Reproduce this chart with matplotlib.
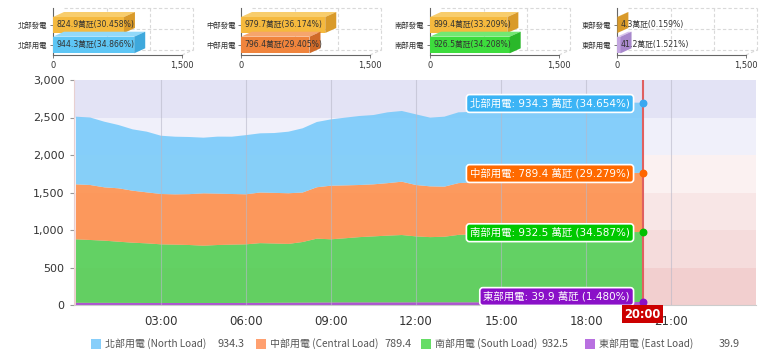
import matplotlib
matplotlib.use("Agg")
import matplotlib.pyplot as plt
import numpy as np
from matplotlib.patches import Polygon, Rectangle
from matplotlib.transforms import blended_transform_factory

plt.rcParams['font.family'] = ['DejaVu Sans', 'Noto Sans CJK TC']

# half-hourly load by region (萬瓩), 00:00 .. 20:00
hours = np.arange(0, 20.5, 0.5)
north = [902, 900, 875, 844, 818, 809, 777, 769, 762, 742,
         760, 764, 789, 789, 798, 821, 856, 870, 884, 903,
         920, 924, 944, 943, 942, 916, 933, 944, 939, 940,
         937, 934, 937, 940, 945, 950, 950, 950, 945, 940, 934.3]
central = [733, 733, 711, 712, 693, 680, 671, 670, 678, 698,
           685, 675, 667, 675, 675, 675, 660, 685, 715, 705,
           695, 694, 700, 711, 685, 677, 668, 690, 694, 695,
           695, 696, 696, 695, 697, 708, 732, 755, 775, 787, 789.4]
south = [846, 838, 829, 816, 803, 795, 782, 778, 773, 764,
         773, 778, 781, 796, 790, 784, 808, 852, 842, 855,
         870, 880, 890, 898, 879, 869, 874, 899, 906, 909,
         907, 904, 905, 907, 909, 912, 917, 924, 929, 933, 932.5]
east = [30, 29, 29, 28, 28, 27, 27, 27, 27, 27,
        27, 27, 28, 29, 30, 31, 32, 33, 34, 35,
        35, 35, 35, 35, 36, 36, 36, 36, 36, 36,
        36, 36, 37, 38, 39, 40, 41, 41, 41, 40, 39.9]

regions = ["北部", "中部", "南部", "東部"]
eng_names = ["North", "Central", "South", "East"]
gen = [824.9, 979.7, 899.4, 4.3]
gen_pct = ["30.458", "36.174", "33.209", "0.159"]
load = [944.3, 796.4, 926.5, 41.2]
load_pct = ["34.866", "29.405", "34.208", "1.521"]
now_load = [934.3, 789.4, 932.5, 39.9]
now_pct = ["34.654", "29.279", "34.587", "1.480"]

W, H = 780, 355


def box(x0, y0, x1, y1):
    return [x0 / W, 1 - y1 / H, (x1 - x0) / W, (y1 - y0) / H]


fig = plt.figure(figsize=(W / 100, H / 100), dpi=100)

# ---- small 3D-ish bar panels on top ----
gen_cols = ("#f5b93e", "#f8cd6c", "#d99a2a")
load_cols = [("#5ec6f5", "#92d9fa", "#3ea8dc"),
             ("#f0843c", "#f6a56c", "#d06a28"),
             ("#3ddc3d", "#72e872", "#2ab82a"),
             ("#c3a6e0", "#d7c3ec", "#a888cc")]
panel_x = [53, 241, 430, 617]
dx, dy = 128, 5

for i in range(4):
    a = fig.add_axes(box(panel_x[i], 8, panel_x[i] + 129, 55))
    a.set_xlim(0, 1500)
    a.set_ylim(0, 47)
    gc = dict(color="#d9d9d9", lw=0.8, ls=(0, (3, 2)), clip_on=False, zorder=1)
    for gx in [500, 1000, 1500]:
        a.plot([gx + dx, gx + dx], [dy, 47], **gc)
    for gy in [dy, 26, 47]:
        a.plot([dx, 1500 + dx], [gy, gy], **gc)
    a.plot([1500, 1500 + dx], [0, dy], **gc)

    bars = [(gen[i], 22, 38, gen_cols, f"{gen[i]}萬瓩({gen_pct[i]}%)"),
            (load[i], 1.7, 18.3, load_cols[i], f"{load[i]}萬瓩({load_pct[i]}%)")]
    for v, b0, b1, cols, txt in bars:
        a.add_patch(Rectangle((0, b0), v, b1 - b0, fc=cols[0], ec="none", zorder=3, clip_on=False))
        a.add_patch(Polygon([(0, b1), (v, b1), (v + dx, b1 + dy), (dx, b1 + dy)],
                            fc=cols[1], ec="none", zorder=3, clip_on=False))
        a.add_patch(Polygon([(v, b0), (v + dx, b0 + dy), (v + dx, b1 + dy), (v, b1)],
                            fc=cols[2], ec="none", zorder=3, clip_on=False))
        a.text(45, (b0 + b1) / 2, txt, fontsize=5.6, color="#333333",
               va="center", ha="left", zorder=5, clip_on=False)

    a.set_yticks([30, 10])
    a.set_yticklabels([regions[i] + "發電", regions[i] + "用電"], fontsize=5.3, color="#333333")
    a.set_xticks([0, 1500])
    a.set_xticklabels(["0", "1,500"], fontsize=6, color="#333333")
    a.tick_params(length=2, width=0.6, color="#666666", pad=2)
    a.tick_params(axis="x", pad=2)
    for s in ["top", "right"]:
        a.spines[s].set_visible(False)
    for s in ["left", "bottom"]:
        a.spines[s].set_color("#666666")
        a.spines[s].set_linewidth(0.8)
    a.patch.set_alpha(0)

# ---- main stacked area chart ----
ax = fig.add_axes(box(74, 80, 756, 305))
band_cols = ["#f2cfcf", "#f5dcdc", "#f8e6e6", "#fbf1f1", "#f0f0fa", "#e3e3f5"]
for k, c in enumerate(band_cols):
    ax.axhspan(k * 500, (k + 1) * 500, color=c, lw=0, zorder=0)

area_cols = ["#a040d0", "#4ad04f", "#fd8b44", "#72c9fa"]
ax.stackplot(hours, east, south, central, north, colors=area_cols,
             alpha=0.85, lw=0, zorder=2)

for t in range(3, 22, 3):
    ax.axvline(t, color="#b8b8c8", lw=0.8, alpha=0.6, zorder=3)
ax.axvline(20, color="#e06060", lw=1.5, zorder=4)

# current value markers and labels
cum = np.cumsum([now_load[3], now_load[2], now_load[1], now_load[0]])
dot_cols = ["#8a10c8", "#00c000", "#ff6600", "#3aa8f0"]
lab_cols = ["#8a10c8", "#00c800", "#ff6a00", "#3cb4f5"]
lab_y = [113, 964, 1753, 2687]
order = [3, 2, 1, 0]
for j in range(4):
    r = order[j]
    ax.scatter([20], [cum[j]], s=22, color=dot_cols[j], zorder=6, clip_on=False)
    ax.text(19.55, lab_y[j],
            f"{regions[r]}用電: {now_load[r]} 萬瓩 ({now_pct[r]}%)",
            ha="right", va="center", fontsize=7.5, color="white", zorder=7,
            bbox=dict(boxstyle="round,pad=0.35,rounding_size=0.3",
                      fc=lab_cols[j], ec="white", lw=1.2))

ax.set_xlim(-0.07, 24)
ax.set_ylim(0, 3000)
ax.set_yticks(range(0, 3001, 500))
ax.set_yticklabels([f"{v:,}" for v in range(0, 3001, 500)])
ax.set_xticks(range(3, 22, 3))
ax.set_xticklabels([f"{t:02d}:00" for t in range(3, 22, 3)])
ax.tick_params(axis="y", length=3, color="#999999", labelsize=8, labelcolor="#333333", pad=4)
ax.tick_params(axis="x", length=0, labelsize=8.5, labelcolor="#333333", pad=7)
for s in ["top", "right"]:
    ax.spines[s].set_visible(False)
ax.spines["left"].set_color("#e8d0d0")
ax.spines["bottom"].set_color("#cccccc")

ax.text(20, -0.04, "20:00", transform=blended_transform_factory(ax.transData, ax.transAxes),
        ha="center", va="center", fontsize=8.3, color="white", fontweight="bold", zorder=8,
        bbox=dict(boxstyle="square,pad=0.2", fc="#cc0000", ec="none"), clip_on=False)

# ---- legend row ----
leg_cols = ["#87cefa", "#ffa070", "#66dd66", "#b870e0"]
patch_x = [91, 256, 421, 585]
val_x = [245, 412, 569, 740]
for i in range(4):
    fig.add_artist(Rectangle((patch_x[i] / W, 1 - 349 / H), 10 / W, 10 / H,
                             transform=fig.transFigure, fc=leg_cols[i], ec="none"))
    fig.text((patch_x[i] + 14) / W, 1 - 344 / H, f"{regions[i]}用電 ({eng_names[i]} Load)",
             fontsize=7.2, color="#555555", va="center", ha="left",
             family=["Noto Sans CJK TC", "DejaVu Sans"])
    fig.text(val_x[i] / W, 1 - 344 / H, f"{now_load[i]}", fontsize=7.8,
             color="#555555", va="center", ha="right",
             family=["Noto Sans CJK TC", "DejaVu Sans"])

fig.savefig("out.png", dpi=100)
